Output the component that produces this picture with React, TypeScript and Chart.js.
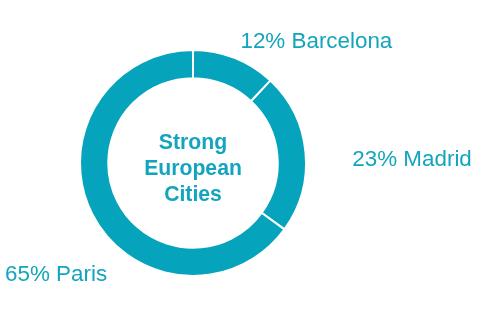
import React, { useEffect, useRef } from "react";
import { Chart, registerables } from "chart.js";

Chart.register(...registerables);

const cities = ["Barcelona", "Madrid", "Paris"];
const shares = [12, 23, 65];
const centerLines = ["Strong", "European", "Cities"];

const TEAL = "#05a4bc";
const TEXT_TEAL = "#12a5bd";
const FONT = "'Liberation Sans', Arial, sans-serif";

// Label anchors relative to the ring centre, in units of the outer radius.
const labelPlacement = [
  { dx: 0.42, dy: -1.02, align: "left" },
  { dx: 1.41, dy: 0.03, align: "left" },
  { dx: -0.76, dy: 1.04, align: "right" },
];

const ringLabels = {
  id: "ringLabels",
  afterDatasetsDraw(chart: any) {
    const meta = chart.getDatasetMeta(0);
    const arc = meta.data[0];
    if (!arc) return;
    const { x, y, outerRadius } = arc.getProps(["x", "y", "outerRadius"], true);
    const ctx = chart.ctx;
    ctx.save();
    ctx.fillStyle = TEXT_TEAL;
    ctx.font = `22.4px ${FONT}`;
    ctx.textBaseline = "alphabetic";
    const values = chart.data.datasets[0].data as number[];
    values.forEach((v, i) => {
      const p = labelPlacement[i];
      ctx.textAlign = p.align;
      ctx.fillText(`${v}% ${chart.data.labels[i]}`, x + p.dx * outerRadius, y + p.dy * outerRadius);
    });
    ctx.font = `bold 21.2px ${FONT}`;
    ctx.textAlign = "center";
    const lh = 26;
    centerLines.forEach((line, i) => {
      ctx.fillText(line, x, y + (i - 1) * lh + 11.5);
    });
    ctx.restore();
  },
};

export default function App() {
  const ref = useRef<HTMLCanvasElement>(null);
  useEffect(() => {
    document.body.style.margin = "0";
    const chart = new Chart(ref.current!, {
      type: "doughnut",
      data: {
        labels: cities,
        datasets: [
          {
            data: shares,
            backgroundColor: TEAL,
            borderColor: "#ffffff",
            borderWidth: 2,
            hoverOffset: 0,
          },
        ],
      },
      options: {
        animation: false,
        responsive: false,
        cutout: "75%",
        layout: { padding: { left: 0, right: 94, top: 49, bottom: 40 } },
        plugins: {
          legend: { display: false },
          tooltip: { enabled: false },
        },
      },
      plugins: [ringLabels],
    });
    return () => chart.destroy();
  }, []);
  return (
    <div style={{ width: 480, height: 317, background: "#fff" }}>
      <canvas ref={ref} width={480} height={317} />
    </div>
  );
}
